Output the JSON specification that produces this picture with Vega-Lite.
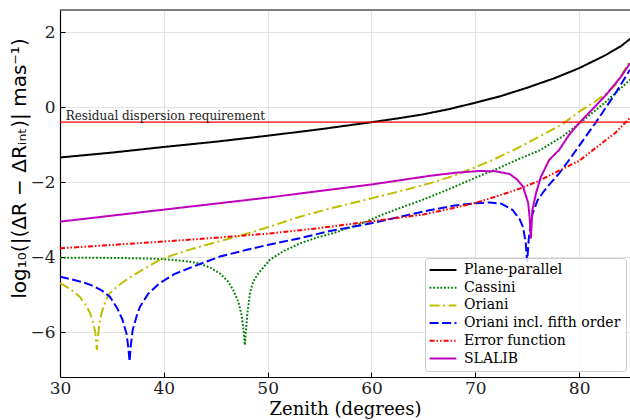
{
  "$schema": "https://vega.github.io/schema/vega-lite/v6.json",
  "width": 570,
  "height": 367,
  "autosize": {"type": "none"},
  "padding": {"left": 60, "top": 10, "right": 0, "bottom": 43},
  "background": "white",
  "config": {
    "view": {"stroke": null},
    "font": "DejaVu Serif",
    "legend": {
      "orient": "none",
      "legendX": 365,
      "legendY": 248,
      "padding": 5,
      "fillColor": "rgba(255,255,255,0.85)",
      "strokeColor": "#cccccc",
      "cornerRadius": 3,
      "labelFont": "DejaVu Serif",
      "labelFontSize": 14,
      "labelColor": "#000000",
      "labelLimit": 300,
      "symbolType": "M-3,0L3,0",
      "symbolSize": 80,
      "symbolStrokeWidth": 2,
      "symbolOffset": 6,
      "labelOffset": 14,
      "rowPadding": 3.7
    }
  },
  "layer": [
    {
      "data": {
        "values": [
          {"s": "Plane-parallel", "z": 30, "v": -1.34},
          {"s": "Plane-parallel", "z": 35, "v": -1.21},
          {"s": "Plane-parallel", "z": 40, "v": -1.06},
          {"s": "Plane-parallel", "z": 45, "v": -0.92},
          {"s": "Plane-parallel", "z": 50, "v": -0.76},
          {"s": "Plane-parallel", "z": 55, "v": -0.59},
          {"s": "Plane-parallel", "z": 60, "v": -0.40},
          {"s": "Plane-parallel", "z": 62.5, "v": -0.30},
          {"s": "Plane-parallel", "z": 65, "v": -0.19},
          {"s": "Plane-parallel", "z": 67.5, "v": -0.05},
          {"s": "Plane-parallel", "z": 70, "v": 0.12},
          {"s": "Plane-parallel", "z": 72.5, "v": 0.30},
          {"s": "Plane-parallel", "z": 75, "v": 0.52},
          {"s": "Plane-parallel", "z": 77.5, "v": 0.76},
          {"s": "Plane-parallel", "z": 80, "v": 1.04},
          {"s": "Plane-parallel", "z": 82.5, "v": 1.38},
          {"s": "Plane-parallel", "z": 84, "v": 1.62},
          {"s": "Plane-parallel", "z": 85, "v": 1.84},

          {"s": "Cassini", "z": 30, "v": -4.01},
          {"s": "Cassini", "z": 33, "v": -4.01},
          {"s": "Cassini", "z": 36, "v": -4.02},
          {"s": "Cassini", "z": 38, "v": -4.03},
          {"s": "Cassini", "z": 40, "v": -4.05},
          {"s": "Cassini", "z": 42, "v": -4.10},
          {"s": "Cassini", "z": 43.4, "v": -4.16},
          {"s": "Cassini", "z": 44.5, "v": -4.28},
          {"s": "Cassini", "z": 45.4, "v": -4.43},
          {"s": "Cassini", "z": 46.2, "v": -4.65},
          {"s": "Cassini", "z": 46.7, "v": -4.88},
          {"s": "Cassini", "z": 47.2, "v": -5.2},
          {"s": "Cassini", "z": 47.5, "v": -5.55},
          {"s": "Cassini", "z": 47.7, "v": -6.0},
          {"s": "Cassini", "z": 47.8, "v": -6.34},
          {"s": "Cassini", "z": 47.9, "v": -6.0},
          {"s": "Cassini", "z": 48.05, "v": -5.5},
          {"s": "Cassini", "z": 48.3, "v": -4.95},
          {"s": "Cassini", "z": 48.6, "v": -4.65},
          {"s": "Cassini", "z": 49.1, "v": -4.43},
          {"s": "Cassini", "z": 50.2, "v": -4.07},
          {"s": "Cassini", "z": 51.5, "v": -3.84},
          {"s": "Cassini", "z": 53.1, "v": -3.63},
          {"s": "Cassini", "z": 55, "v": -3.45},
          {"s": "Cassini", "z": 56.3, "v": -3.36},
          {"s": "Cassini", "z": 58, "v": -3.2},
          {"s": "Cassini", "z": 59.5, "v": -3.05},
          {"s": "Cassini", "z": 61, "v": -2.87},
          {"s": "Cassini", "z": 62.7, "v": -2.69},
          {"s": "Cassini", "z": 65, "v": -2.46},
          {"s": "Cassini", "z": 67.5, "v": -2.18},
          {"s": "Cassini", "z": 70, "v": -1.88},
          {"s": "Cassini", "z": 72.3, "v": -1.62},
          {"s": "Cassini", "z": 74.2, "v": -1.38},
          {"s": "Cassini", "z": 76.2, "v": -1.15},
          {"s": "Cassini", "z": 78.4, "v": -0.78},
          {"s": "Cassini", "z": 80, "v": -0.44},
          {"s": "Cassini", "z": 82.6, "v": 0.15},
          {"s": "Cassini", "z": 84, "v": 0.5},
          {"s": "Cassini", "z": 84.9, "v": 0.73},

          {"s": "Oriani", "z": 30, "v": -4.69},
          {"s": "Oriani", "z": 31, "v": -4.85},
          {"s": "Oriani", "z": 31.9, "v": -5.05},
          {"s": "Oriani", "z": 32.5, "v": -5.28},
          {"s": "Oriani", "z": 32.9, "v": -5.49},
          {"s": "Oriani", "z": 33.2, "v": -5.75},
          {"s": "Oriani", "z": 33.4, "v": -6.0},
          {"s": "Oriani", "z": 33.55, "v": -6.47},
          {"s": "Oriani", "z": 33.7, "v": -6.0},
          {"s": "Oriani", "z": 33.85, "v": -5.7},
          {"s": "Oriani", "z": 34.0, "v": -5.49},
          {"s": "Oriani", "z": 34.4, "v": -5.15},
          {"s": "Oriani", "z": 34.8, "v": -4.96},
          {"s": "Oriani", "z": 35.5, "v": -4.78},
          {"s": "Oriani", "z": 36.4, "v": -4.6},
          {"s": "Oriani", "z": 38, "v": -4.32},
          {"s": "Oriani", "z": 39.6, "v": -4.07},
          {"s": "Oriani", "z": 41, "v": -3.93},
          {"s": "Oriani", "z": 42.8, "v": -3.77},
          {"s": "Oriani", "z": 45.4, "v": -3.57},
          {"s": "Oriani", "z": 48, "v": -3.37},
          {"s": "Oriani", "z": 50, "v": -3.2},
          {"s": "Oriani", "z": 53.1, "v": -2.92},
          {"s": "Oriani", "z": 56, "v": -2.7},
          {"s": "Oriani", "z": 60, "v": -2.43},
          {"s": "Oriani", "z": 63, "v": -2.22},
          {"s": "Oriani", "z": 65.6, "v": -2.03},
          {"s": "Oriani", "z": 68, "v": -1.82},
          {"s": "Oriani", "z": 70, "v": -1.6},
          {"s": "Oriani", "z": 71.5, "v": -1.43},
          {"s": "Oriani", "z": 74, "v": -1.1},
          {"s": "Oriani", "z": 76.2, "v": -0.78},
          {"s": "Oriani", "z": 78.4, "v": -0.45},
          {"s": "Oriani", "z": 80, "v": -0.12},
          {"s": "Oriani", "z": 81.5, "v": 0.14},
          {"s": "Oriani", "z": 82.6, "v": 0.37},
          {"s": "Oriani", "z": 83.5, "v": 0.59},
          {"s": "Oriani", "z": 84.9, "v": 1.24},

          {"s": "Oriani incl. fifth order", "z": 30, "v": -4.52},
          {"s": "Oriani incl. fifth order", "z": 31, "v": -4.58},
          {"s": "Oriani incl. fifth order", "z": 32, "v": -4.65},
          {"s": "Oriani incl. fifth order", "z": 33, "v": -4.74},
          {"s": "Oriani incl. fifth order", "z": 34, "v": -4.88},
          {"s": "Oriani incl. fifth order", "z": 34.8, "v": -5.05},
          {"s": "Oriani incl. fifth order", "z": 35.5, "v": -5.35},
          {"s": "Oriani incl. fifth order", "z": 36, "v": -5.65},
          {"s": "Oriani incl. fifth order", "z": 36.4, "v": -6.02},
          {"s": "Oriani incl. fifth order", "z": 36.6, "v": -6.45},
          {"s": "Oriani incl. fifth order", "z": 36.7, "v": -6.78},
          {"s": "Oriani incl. fifth order", "z": 36.8, "v": -6.4},
          {"s": "Oriani incl. fifth order", "z": 37.0, "v": -5.94},
          {"s": "Oriani incl. fifth order", "z": 37.4, "v": -5.55},
          {"s": "Oriani incl. fifth order", "z": 37.7, "v": -5.32},
          {"s": "Oriani incl. fifth order", "z": 38.5, "v": -4.97},
          {"s": "Oriani incl. fifth order", "z": 39.6, "v": -4.69},
          {"s": "Oriani incl. fifth order", "z": 41, "v": -4.45},
          {"s": "Oriani incl. fifth order", "z": 42.8, "v": -4.25},
          {"s": "Oriani incl. fifth order", "z": 45.4, "v": -3.98},
          {"s": "Oriani incl. fifth order", "z": 48, "v": -3.8},
          {"s": "Oriani incl. fifth order", "z": 50, "v": -3.67},
          {"s": "Oriani incl. fifth order", "z": 53.1, "v": -3.49},
          {"s": "Oriani incl. fifth order", "z": 56, "v": -3.3},
          {"s": "Oriani incl. fifth order", "z": 59.5, "v": -3.12},
          {"s": "Oriani incl. fifth order", "z": 62, "v": -2.97},
          {"s": "Oriani incl. fifth order", "z": 65, "v": -2.78},
          {"s": "Oriani incl. fifth order", "z": 68, "v": -2.62},
          {"s": "Oriani incl. fifth order", "z": 70, "v": -2.56},
          {"s": "Oriani incl. fifth order", "z": 71.4, "v": -2.54},
          {"s": "Oriani incl. fifth order", "z": 72.5, "v": -2.57},
          {"s": "Oriani incl. fifth order", "z": 73.6, "v": -2.74},
          {"s": "Oriani incl. fifth order", "z": 74.3, "v": -3.0},
          {"s": "Oriani incl. fifth order", "z": 74.6, "v": -3.2},
          {"s": "Oriani incl. fifth order", "z": 74.85, "v": -3.6},
          {"s": "Oriani incl. fifth order", "z": 75.0, "v": -4.12},
          {"s": "Oriani incl. fifth order", "z": 75.15, "v": -3.5},
          {"s": "Oriani incl. fifth order", "z": 75.5, "v": -2.85},
          {"s": "Oriani incl. fifth order", "z": 76, "v": -2.48},
          {"s": "Oriani incl. fifth order", "z": 76.5, "v": -2.28},
          {"s": "Oriani incl. fifth order", "z": 77.1, "v": -2.07},
          {"s": "Oriani incl. fifth order", "z": 78.1, "v": -1.76},
          {"s": "Oriani incl. fifth order", "z": 79, "v": -1.42},
          {"s": "Oriani incl. fifth order", "z": 80, "v": -1.03},
          {"s": "Oriani incl. fifth order", "z": 81.6, "v": -0.41},
          {"s": "Oriani incl. fifth order", "z": 83.5, "v": 0.37},
          {"s": "Oriani incl. fifth order", "z": 84.9, "v": 1.0},

          {"s": "Error function", "z": 30, "v": -3.76},
          {"s": "Error function", "z": 35, "v": -3.67},
          {"s": "Error function", "z": 40, "v": -3.58},
          {"s": "Error function", "z": 45, "v": -3.48},
          {"s": "Error function", "z": 50, "v": -3.37},
          {"s": "Error function", "z": 55, "v": -3.22},
          {"s": "Error function", "z": 60, "v": -3.04},
          {"s": "Error function", "z": 65, "v": -2.86},
          {"s": "Error function", "z": 68, "v": -2.68},
          {"s": "Error function", "z": 70, "v": -2.55},
          {"s": "Error function", "z": 72, "v": -2.38},
          {"s": "Error function", "z": 74, "v": -2.2},
          {"s": "Error function", "z": 76, "v": -1.98},
          {"s": "Error function", "z": 78, "v": -1.7},
          {"s": "Error function", "z": 80, "v": -1.43},
          {"s": "Error function", "z": 82, "v": -1.0},
          {"s": "Error function", "z": 83.5, "v": -0.68},
          {"s": "Error function", "z": 84.9, "v": -0.28},

          {"s": "SLALIB", "z": 30, "v": -3.05},
          {"s": "SLALIB", "z": 35, "v": -2.89},
          {"s": "SLALIB", "z": 40, "v": -2.73},
          {"s": "SLALIB", "z": 45, "v": -2.57},
          {"s": "SLALIB", "z": 50, "v": -2.41},
          {"s": "SLALIB", "z": 54, "v": -2.27},
          {"s": "SLALIB", "z": 60, "v": -2.06},
          {"s": "SLALIB", "z": 65.6, "v": -1.83},
          {"s": "SLALIB", "z": 68, "v": -1.75},
          {"s": "SLALIB", "z": 70.4, "v": -1.70},
          {"s": "SLALIB", "z": 72, "v": -1.71},
          {"s": "SLALIB", "z": 73.3, "v": -1.78},
          {"s": "SLALIB", "z": 74, "v": -1.92},
          {"s": "SLALIB", "z": 74.6, "v": -2.12},
          {"s": "SLALIB", "z": 75.1, "v": -2.56},
          {"s": "SLALIB", "z": 75.25, "v": -3.0},
          {"s": "SLALIB", "z": 75.35, "v": -3.5},
          {"s": "SLALIB", "z": 75.5, "v": -2.74},
          {"s": "SLALIB", "z": 75.85, "v": -2.29},
          {"s": "SLALIB", "z": 76.3, "v": -1.87},
          {"s": "SLALIB", "z": 77.1, "v": -1.41},
          {"s": "SLALIB", "z": 78.1, "v": -1.13},
          {"s": "SLALIB", "z": 79, "v": -0.75},
          {"s": "SLALIB", "z": 80, "v": -0.42},
          {"s": "SLALIB", "z": 81.3, "v": -0.05},
          {"s": "SLALIB", "z": 82.6, "v": 0.33},
          {"s": "SLALIB", "z": 84, "v": 0.8},
          {"s": "SLALIB", "z": 84.9, "v": 1.17}
        ]
      },
      "mark": {"type": "line", "strokeWidth": 2, "clip": true},
      "encoding": {
        "x": {
          "field": "z",
          "type": "quantitative",
          "scale": {"domain": [30, 84.9], "nice": false, "zero": false},
          "axis": {
            "values": [30, 40, 50, 60, 70, 80],
            "grid": true,
            "gridColor": "#e3e3e3",
            "gridWidth": 1,
            "domainColor": "#000000",
            "domainWidth": 1.2,
            "tickColor": "#000000",
            "tickSize": -5,
            "labelPadding": 8,
            "labelFlush": false,
            "labelFont": "DejaVu Serif",
            "labelFontSize": 17,
            "labelColor": "#222222",
            "title": "Zenith (degrees)",
            "titleFont": "DejaVu Serif",
            "titleFontSize": 18,
            "titleFontWeight": "normal",
            "titleColor": "#000000",
            "titleBaseline": "alphabetic",
            "titleY": 37
          }
        },
        "y": {
          "field": "v",
          "type": "quantitative",
          "scale": {"domain": [-7.19, 2.59], "nice": false, "zero": false},
          "axis": {
            "values": [-6, -4, -2, 0, 2],
            "grid": true,
            "gridColor": "#e3e3e3",
            "gridWidth": 1,
            "domainColor": "#000000",
            "domainWidth": 1.2,
            "tickColor": "#000000",
            "tickSize": -5,
            "labelPadding": 10,
            "labelFlush": false,
            "labelFont": "DejaVu Serif",
            "labelFontSize": 17,
            "labelColor": "#222222",
            "title": "log₁₀(|(ΔR − ΔRᵢₙₜ)| mas⁻¹)",
            "titleFont": "DejaVu Sans",
            "titleFontSize": 20,
            "titleFontWeight": "normal",
            "titleColor": "#000000",
            "titleAngle": 270,
            "titleAlign": "center",
            "titleBaseline": "alphabetic",
            "titleX": -35,
            "titleY": 158
          }
        },
        "color": {
          "field": "s",
          "type": "nominal",
          "scale": {
            "domain": ["Plane-parallel", "Cassini", "Oriani", "Oriani incl. fifth order", "Error function", "SLALIB"],
            "range": ["#000000", "#008000", "#bfbf00", "#0000ff", "#ff0000", "#bf00bf"]
          },
          "legend": {"title": null}
        },
        "strokeDash": {
          "field": "s",
          "type": "nominal",
          "scale": {
            "domain": ["Plane-parallel", "Cassini", "Oriani", "Oriani incl. fifth order", "Error function", "SLALIB"],
            "range": [[1, 0], [1.8, 1.8], [10, 3.5, 2, 3.5], [9, 3.5], [5, 2, 1.5, 2, 1.5, 2], [1, 0]]
          },
          "legend": {"title": null}
        }
      }
    },
    {
      "data": {"values": [{"label": "requirement"}]},
      "mark": {"type": "rule", "color": "#ff0000", "strokeWidth": 1.2},
      "encoding": {"y": {"datum": -0.398}}
    },
    {
      "data": {"values": [{"label": "Residual dispersion requirement"}]},
      "mark": {"type": "text", "align": "left", "baseline": "alphabetic", "dy": -2.5, "font": "DejaVu Serif", "fontSize": 12, "color": "#222222"},
      "encoding": {
        "x": {"datum": 30.55},
        "y": {"datum": -0.398},
        "text": {"field": "label"}
      }
    },
    {
      "data": {"values": [{"label": "top"}]},
      "mark": {"type": "rule", "color": "#000000", "strokeWidth": 1.2},
      "encoding": {"y": {"datum": 2.59}}
    }
  ]
}
